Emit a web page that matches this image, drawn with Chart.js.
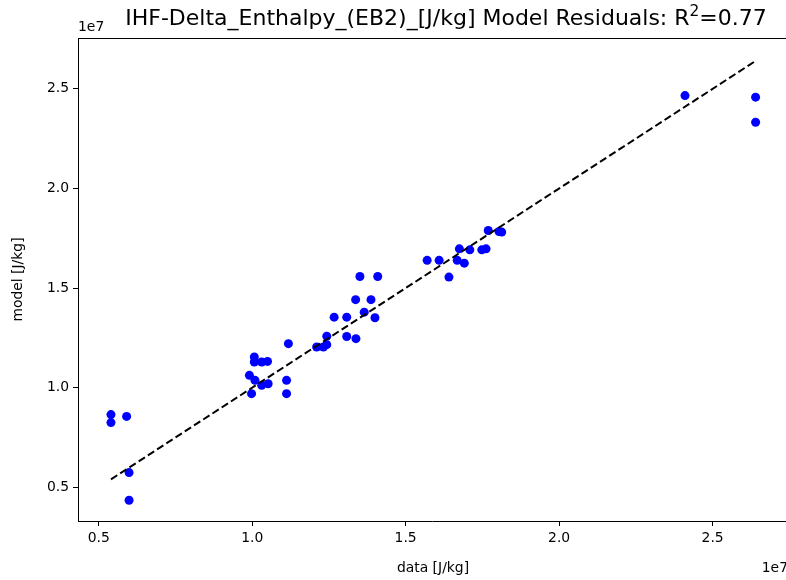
<!DOCTYPE html>
<html>
<head>
<meta charset="utf-8">
<script src="https://cdn.jsdelivr.net/npm/chart.js@4.4.1/dist/chart.umd.min.js"></script>
<style>
  html, body { margin: 0; padding: 0; background: #fff; overflow: hidden; }
</style>
</head>
<body>
<canvas id="residualChart" width="786" height="580"></canvas>
<script>
// all values in units of 1e7 J/kg (the axes carry a 1e7 offset)
const dataValues = [
  0.540, 0.540, 0.591, 0.599, 0.599,
  1.007, 1.007, 1.031, 1.050, 0.991, 1.009, 1.031, 1.052, 0.998,
  1.112, 1.112, 1.118, 1.210, 1.232, 1.243, 1.243,
  1.267, 1.308, 1.308, 1.338, 1.351, 1.409, 1.337, 1.387, 1.365, 1.400,
  1.570, 1.609, 1.641, 1.668, 1.691, 1.675, 1.709, 1.748, 1.762,
  1.769, 1.804, 1.813, 2.410, 2.640, 2.640,
]
const modelValues = [
  0.865, 0.825, 0.856, 0.574, 0.435,
  1.154, 1.129, 1.129, 1.132, 1.062, 1.037, 1.012, 1.020, 0.970,
  1.037, 0.970, 1.221, 1.204, 1.204, 1.258, 1.216,
  1.354, 1.354, 1.257, 1.246, 1.558, 1.558, 1.442, 1.442, 1.379, 1.351,
  1.639, 1.639, 1.555, 1.639, 1.625, 1.697, 1.692, 1.692, 1.697,
  1.789, 1.784, 1.781, 2.466, 2.458, 2.332,
]
const xTicks = [0.5, 1.0, 1.5, 2.0, 2.5]
const yTicks = [0.5, 1.0, 1.5, 2.0, 2.5]

const TITLE_MAIN = 'IHF-Delta_Enthalpy_(EB2)_[J/kg] Model Residuals: R'
const TITLE_SUP = '2'
const TITLE_END = '=0.77'
const X_LABEL = 'data [J/kg]'
const Y_LABEL = 'model [J/kg]'
const OFFSET_TEXT = '1e7'

const FONT = 'DejaVu Sans'
const AXES_RIGHT = 788 // the right spine sits just outside the picture
const TITLE_CENTER = 446

function getScatterPoints() {
  return dataValues.map((x, i) => ({ x: x, y: modelValues[i] }))
}

// identity line from the smallest to the largest measured value
function getIdentityLine() {
  const lo = Math.min(...dataValues)
  const hi = Math.max(...dataValues)
  return [{ x: lo, y: lo }, { x: hi, y: hi }]
}

const frameAndText = {
  id: 'frameAndText',
  afterDraw(chart) {
    const { ctx, chartArea: a } = chart
    ctx.save()
    // top spine
    ctx.strokeStyle = '#000'
    ctx.lineWidth = 1
    ctx.beginPath()
    ctx.moveTo(a.left, Math.round(a.top) + 0.5)
    ctx.lineTo(a.right, Math.round(a.top) + 0.5)
    ctx.stroke()

    ctx.fillStyle = '#000'
    // title with superscript
    const big = '22px "' + FONT + '"'
    const small = '15.4px "' + FONT + '"'
    ctx.font = big
    const w1 = ctx.measureText(TITLE_MAIN).width
    const w3 = ctx.measureText(TITLE_END).width
    ctx.font = small
    const w2 = ctx.measureText(TITLE_SUP).width
    let x = TITLE_CENTER - (w1 + w2 + w3) / 2
    const base = 25
    ctx.textBaseline = 'alphabetic'
    ctx.textAlign = 'left'
    ctx.font = big
    ctx.fillText(TITLE_MAIN, x, base)
    x += w1
    ctx.font = small
    ctx.fillText(TITLE_SUP, x, base - 9)
    x += w2
    ctx.font = big
    ctx.fillText(TITLE_END, x, base)

    // offset texts
    ctx.font = '13.9px "' + FONT + '"'
    ctx.textAlign = 'left'
    ctx.fillText(OFFSET_TEXT, a.left, 31)
    ctx.textAlign = 'right'
    ctx.fillText(OFFSET_TEXT, AXES_RIGHT, 572)

    // axis labels
    ctx.textAlign = 'center'
    ctx.fillText(X_LABEL, (a.left + AXES_RIGHT) / 2, 572)
    ctx.save()
    ctx.translate(22, (a.top + a.bottom) / 2)
    ctx.rotate(-Math.PI / 2)
    ctx.fillText(Y_LABEL, 0, 0)
    ctx.restore()
    ctx.restore()
  }
}

function axisOptions(ticksList, min, max) {
  return {
    type: 'linear',
    min: min,
    max: max,
    afterBuildTicks: (scale) => {
      scale.ticks = ticksList.map((v) => ({ value: v }))
    },
    grid: {
      drawOnChartArea: false,
      drawTicks: true,
      tickLength: 5,
      tickColor: '#000',
      tickWidth: 1,
    },
    border: { display: true, color: '#000', width: 1 },
    ticks: {
      color: '#000',
      font: { family: FONT, size: 13.9 },
      padding: 4,
      autoSkip: false,
      maxRotation: 0,
      callback: (v) => Number(v).toFixed(1),
    },
  }
}

const xAxis = axisOptions(xTicks, 0.4326, 2.739)
xAxis.afterFit = (scale) => {
  scale.height = 59
  scale.paddingLeft = 0
  scale.paddingRight = 0
}
const yAxis = axisOptions(yTicks, 0.3310, 2.755)
yAxis.afterFit = (scale) => {
  scale.width = 78
  scale.paddingTop = 0
  scale.paddingBottom = 0
}

const ctx = document.getElementById('residualChart').getContext('2d')
new Chart(ctx, {
  type: 'scatter',
  data: {
    datasets: [
      {
        type: 'line',
        label: 'identity',
        data: getIdentityLine(),
        borderColor: '#000',
        borderWidth: 2,
        borderDash: [7.5, 3.5],
        pointRadius: 0,
        fill: false,
        order: 0,
      },
      {
        label: 'residuals',
        data: getScatterPoints(),
        backgroundColor: '#0000ff',
        borderColor: '#0000ff',
        borderWidth: 0,
        pointRadius: 4.5,
        order: 1,
      },
    ],
  },
  options: {
    responsive: false,
    animation: false,
    devicePixelRatio: 1,
    layout: { autoPadding: false, padding: { top: 38, right: 0, left: 0, bottom: 0 } },
    plugins: {
      legend: { display: false },
      tooltip: { enabled: false },
      title: { display: false },
    },
    scales: { x: xAxis, y: yAxis },
  },
  plugins: [frameAndText],
})
</script>
</body>
</html>
